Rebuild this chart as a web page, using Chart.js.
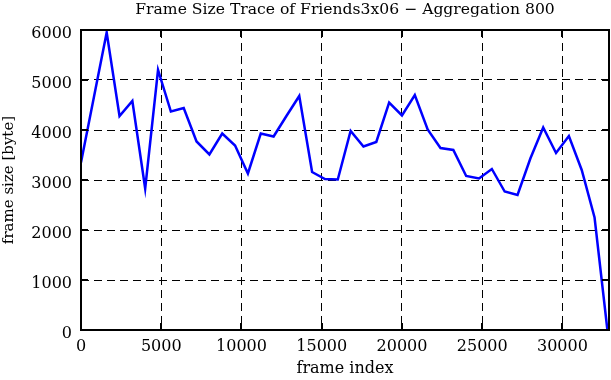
<!DOCTYPE html>
<html>
<head>
<meta charset="utf-8">
<script src="https://cdn.jsdelivr.net/npm/chart.js@4"></script>
<style>
  html, body { margin: 0; padding: 0; background: #fff; }
  #wrap { width: 611px; height: 380px; }
</style>
</head>
<body>
<div id="wrap"><canvas id="traceChart" width="611" height="380"></canvas></div>
<script>
// frame size trace, aggregation 800
const chartTitle = 'Frame Size Trace of Friends3x06 \u2212 Aggregation 800';
const frameIndex = [0, 800, 1600, 2400, 3200, 4000, 4800, 5600, 6400, 7200,
  8000, 8800, 9600, 10400, 11200, 12000, 12800, 13600, 14400, 15200,
  16000, 16800, 17600, 18400, 19200, 20000, 20800, 21600, 22400, 23200,
  24000, 24800, 25600, 26400, 27200, 28000, 28800, 29600, 30400, 31200,
  32000, 32800];
const frameSize = [3350, 4650, 5950, 4280, 4580, 2830, 5200, 4370, 4440, 3770,
  3510, 3930, 3690, 3130, 3930, 3870, 4280, 4680, 3160, 3020,
  3010, 3980, 3670, 3760, 4550, 4290, 4700, 4010, 3640, 3600,
  3080, 3030, 3220, 2770, 2700, 3430, 4050, 3540, 3880, 3200,
  2250, 0];
const xTicks = [0, 5000, 10000, 15000, 20000, 25000, 30000];
const yTicks = [0, 1000, 2000, 3000, 4000, 5000, 6000];

const serif = '"DejaVu Serif", "Liberation Serif", serif';

// gnuplot style frame: solid border + inward tick marks, title over the plot area
const framePlugin = {
  id: 'frame',
  afterDatasetsDraw(chart) {
    const { ctx, chartArea: a, scales } = chart;
    ctx.save();
    ctx.strokeStyle = '#000';
    ctx.lineWidth = 2;
    ctx.setLineDash([]);
    ctx.strokeRect(a.left, a.top, a.right - a.left, a.bottom - a.top);
    const len = 7;
    ctx.beginPath();
    scales.y.ticks.forEach(t => {
      const y = Math.round(scales.y.getPixelForValue(t.value));
      ctx.moveTo(a.left, y); ctx.lineTo(a.left + len, y);
      ctx.moveTo(a.right, y); ctx.lineTo(a.right - len, y);
    });
    scales.x.ticks.forEach(t => {
      const x = Math.round(scales.x.getPixelForValue(t.value));
      ctx.moveTo(x, a.bottom); ctx.lineTo(x, a.bottom - len);
      ctx.moveTo(x, a.top); ctx.lineTo(x, a.top + len);
    });
    ctx.stroke();

    ctx.fillStyle = '#000';
    ctx.font = '15.6px ' + serif;
    ctx.textAlign = 'center';
    ctx.textBaseline = 'alphabetic';
    ctx.fillText(chartTitle, (a.left + a.right) / 2, 14);
    ctx.restore();
  }
};

new Chart(document.getElementById('traceChart'), {
  type: 'line',
  data: {
    labels: frameIndex,
    datasets: [{
      data: frameIndex.map((f, i) => ({ x: f, y: frameSize[i] })),
      borderColor: '#0000ff',
      borderWidth: 2.5,
      pointRadius: 0,
      tension: 0,
      fill: false
    }]
  },
  options: {
    responsive: false,
    animation: false,
    events: [],
    layout: { padding: { left: 0, right: 2, top: 30, bottom: 0 } },
    plugins: {
      legend: { display: false },
      tooltip: { enabled: false },
      title: { display: false }
    },
    scales: {
      x: {
        type: 'linear',
        min: 0,
        max: 32900,
        afterBuildTicks: s => { s.ticks = xTicks.map(v => ({ value: v })); },
        afterFit: s => { s.height = 50; },
        ticks: { color: '#000', font: { family: serif, size: 16 }, padding: 7, includeBounds: false, maxRotation: 0,
          callback: v => String(v) },
        grid: { color: '#000', lineWidth: 1, drawTicks: false },
        border: { display: false, dash: [8, 5] },
        title: { display: true, text: 'frame index', color: '#000', font: { family: serif, size: 16 }, padding: { top: 0, bottom: 2 } }
      },
      y: {
        min: 0,
        max: 6000,
        afterBuildTicks: s => { s.ticks = yTicks.map(v => ({ value: v })); },
        afterFit: s => { s.width = 81; },
        ticks: { color: '#000', font: { family: serif, size: 16 }, padding: 9, labelOffset: 4,
          callback: v => String(v) },
        grid: { color: '#000', lineWidth: 1, drawTicks: false },
        border: { display: false, dash: [8, 5] },
        title: { display: true, text: 'frame size [byte]', color: '#000', font: { family: serif, size: 15 }, padding: { top: 0, bottom: 0 } }
      }
    }
  },
  plugins: [framePlugin]
});
</script>
</body>
</html>
